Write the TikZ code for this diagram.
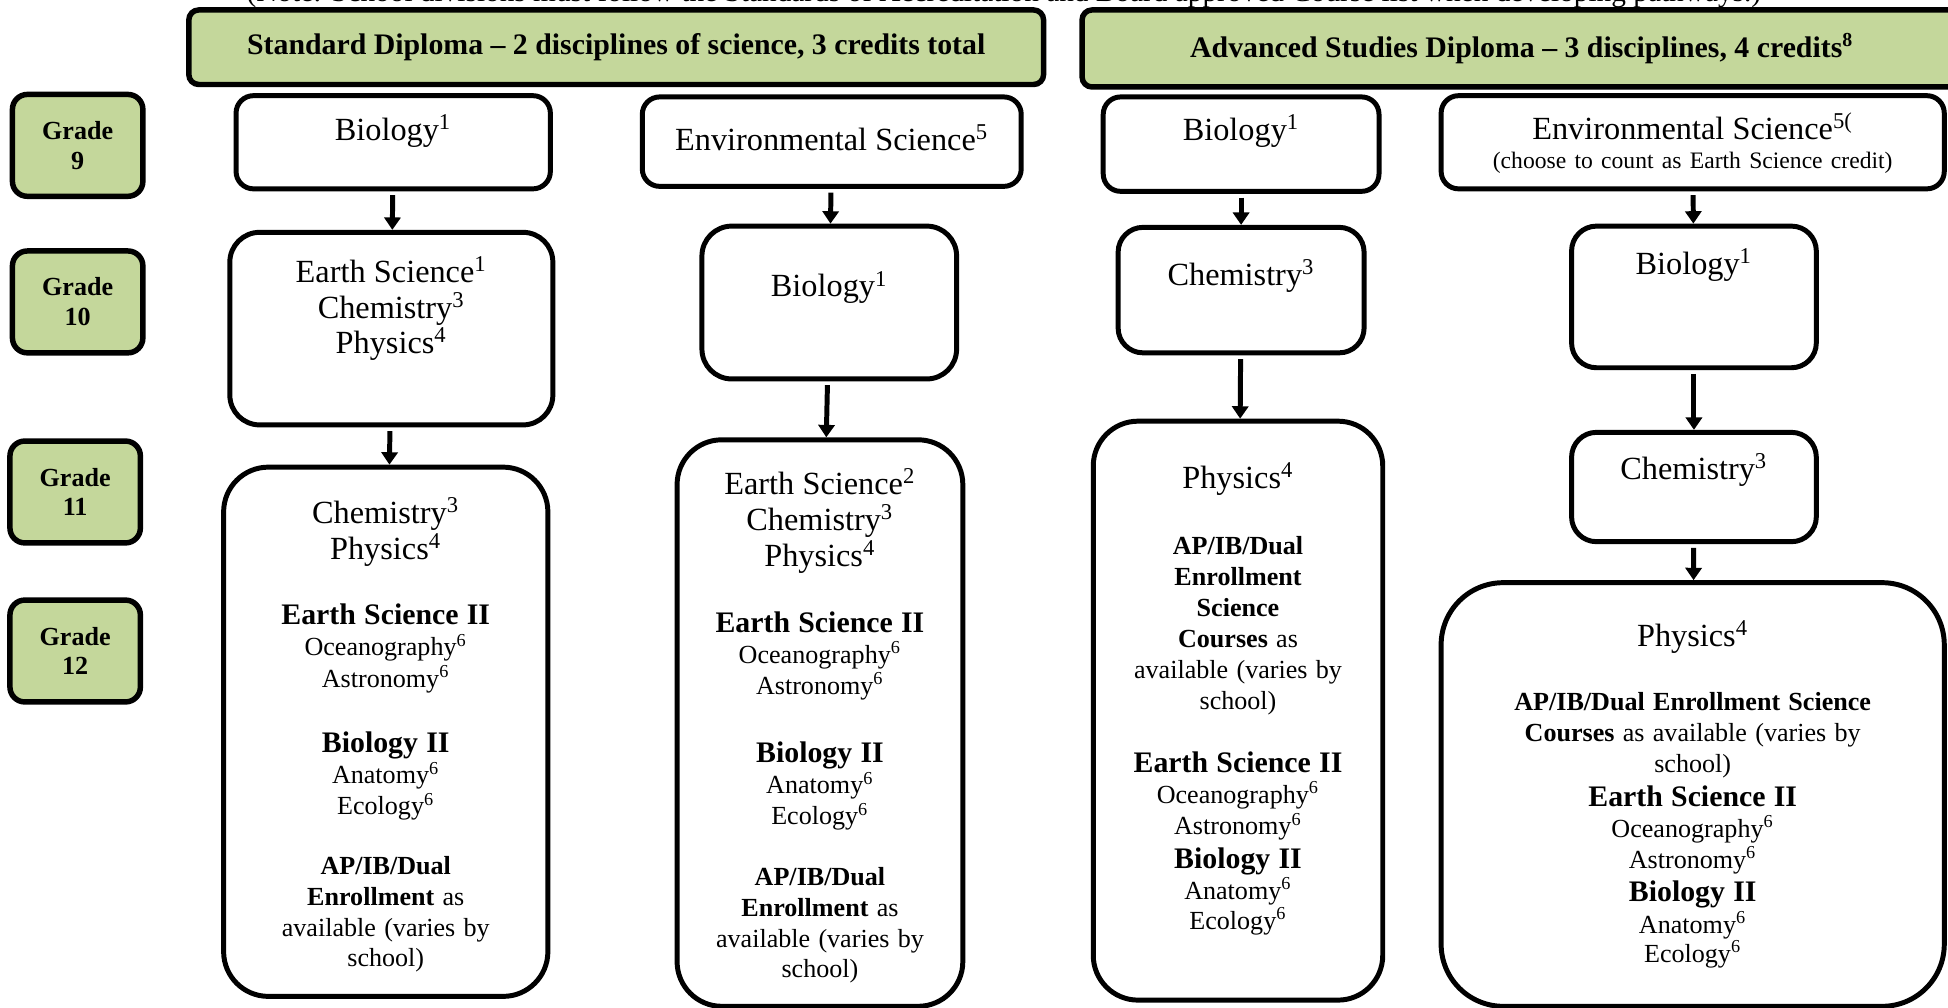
\documentclass[tikz,border=0pt]{standalone}
\usepackage{fontspec}
\setmainfont{Liberation Serif}
\usepackage{tikz}
\usetikzlibrary{shapes,arrows,arrows.meta}
\definecolor{gradegreen}{RGB}{196,215,155}
\newcommand{\crsfont}{\fontsize{13}{14.5}\selectfont\mdseries}
\newcommand{\subhfont}{\fontsize{12}{13.5}\selectfont\bfseries}
\newcommand{\topicfont}{\fontsize{10.5}{12.5}\selectfont\mdseries}
\tikzstyle{header} = [rectangle, draw, fill=gradegreen, line width=2.2pt,
rounded corners=4pt, inner sep=0pt, font=\fontsize{12}{14}\selectfont\bfseries]
\tikzstyle{grade} = [rectangle, draw, fill=gradegreen, line width=2.2pt, rounded corners=6pt,
minimum width=52.5pt, minimum height=41pt, inner sep=0pt, align=center,
font=\fontsize{10.5}{12}\selectfont\bfseries]
\tikzstyle{block} = [rectangle, draw, fill=white, line width=2pt, rounded corners=7pt,
anchor=north, inner sep=0pt, align=center]
\tikzstyle{bigblock} = [block, rounded corners=18pt]
\tikzstyle{line} = [draw, line width=2pt, -{Triangle[length=5pt,width=6.5pt]}, shorten <=1.5pt]

\begin{document}
\begin{tikzpicture}[x=0.5pt, y=-0.5pt]
\useasboundingbox (0,0) rectangle (1568,811);
\clip (0,0) rectangle (1568,811);
% Place nodes
\node [anchor=base, font=\fontsize{11.8}{14}\selectfont] (note) at (808,1.5) {(Note: School divisions must follow the Standards of Accreditation and Board approved Course list when developing pathways.)};
\node [header, minimum width=344pt, minimum height=30pt] (stdhead) at (496,38) {Standard Diploma – 2 disciplines of science, 3 credits total};
\node [header, minimum width=354pt, minimum height=31pt] (advhead) at (1225,39) {Advanced Studies Diploma – 3 disciplines, 4 credits\textsuperscript{8}};
\node [grade] (gnine) at (62.5,117) {Grade\\9};
\node [grade] (gten) at (62.5,243) {Grade\\10};
\node [grade] (geleven) at (60.5,396) {Grade\\11};
\node [grade] (gtwelve) at (60.5,524) {Grade\\12};
% Standard Diploma, first pathway
\node [block, text width=126.5pt, text height=18pt, text depth=19.5pt] (bioone) at (316.5,75) {\crsfont Biology\textsuperscript{1}};
\node [block, rounded corners=12pt, text width=130pt, text height=20pt, text depth=57.5pt] (esone) at (315,185) {\crsfont Earth Science\textsuperscript{1}\\ Chemistry\textsuperscript{3}\\ Physics\textsuperscript{4}};
\node [bigblock, text width=130.5pt, text height=22.5pt, text depth=190.5pt] (moreone) at (310.5,374) {\crsfont Chemistry\textsuperscript{3}\\ Physics\textsuperscript{4}\\[13pt]
\subhfont Earth Science II\\ \topicfont Oceanography\textsuperscript{6}\\ Astronomy\textsuperscript{6}\\[13pt]
\subhfont Biology II\\ \topicfont Anatomy\textsuperscript{6}\\ Ecology\textsuperscript{6}\\[11.5pt]
\textbf{AP/IB/Dual}\\ \textbf{Enrollment} as\\ available (varies by\\ school)};
% Standard Diploma, second pathway
\node [block, text width=152.5pt, text height=21.5pt, text depth=14.5pt] (envtwo) at (669.5,76) {\crsfont Environmental Science\textsuperscript{5}};
\node [block, rounded corners=12pt, text width=102.5pt, text height=28.5pt, text depth=33pt] (biotwo) at (667.5,180) {\crsfont Biology\textsuperscript{1}};
\node [bigblock, text width=115pt, text height=22pt, text depth=206pt] (moretwo) at (660,352) {\crsfont Earth Science\textsuperscript{2}\\ Chemistry\textsuperscript{3}\\ Physics\textsuperscript{4}\\[13pt]
\subhfont Earth Science II\\ \topicfont Oceanography\textsuperscript{6}\\ Astronomy\textsuperscript{6}\\[14pt]
\subhfont Biology II\\ \topicfont Anatomy\textsuperscript{6}\\ Ecology\textsuperscript{6}\\[12pt]
\textbf{AP/IB/Dual}\\ \textbf{Enrollment} as\\ available (varies by\\ school)};
% Advanced Studies Diploma, first pathway
\node [block, text width=111pt, text height=17.5pt, text depth=20.5pt] (biothree) at (999,76) {\crsfont Biology\textsuperscript{1}};
\node [block, rounded corners=10pt, text width=99pt, text height=23.5pt, text depth=27pt] (chemthree) at (999,181) {\crsfont Chemistry\textsuperscript{3}};
\node [bigblock, text width=116.5pt, text height=27pt, text depth=206pt] (morethree) at (996.5,337) {\crsfont Physics\textsuperscript{4}\\[14pt]
\topicfont\textbf{AP/IB/Dual}\\ \textbf{Enrollment}\\ \textbf{Science}\\ \textbf{Courses} as\\ available (varies by\\ school)\\[12pt]
\subhfont Earth Science II\\ \topicfont Oceanography\textsuperscript{6}\\ Astronomy\textsuperscript{6}\\
\subhfont Biology II\\ \topicfont Anatomy\textsuperscript{6}\\ Ecology\textsuperscript{6}};
% Advanced Studies Diploma, second pathway
\node [block, text width=202.5pt, text height=17.5pt, text depth=20pt] (envfour) at (1362.5,75) {\crsfont Environmental Science\textsuperscript{5(}\\
\fontsize{9.5}{12}\selectfont (choose to count as Earth Science credit)};
\node [block, rounded corners=10pt, text width=98.5pt, text height=19.5pt, text depth=37.5pt] (biofour) at (1363.5,180) {\crsfont Biology\textsuperscript{1}};
\node [block, rounded corners=10pt, text width=98.5pt, text height=19pt, text depth=25pt] (chemfour) at (1363.5,346) {\crsfont Chemistry\textsuperscript{3}};
\node [bigblock, rounded corners=25pt, text width=202.5pt, text height=25.5pt, text depth=145pt] (morefour) at (1362.5,467) {\crsfont Physics\textsuperscript{4}\\[13.5pt]
\topicfont\textbf{AP/IB/Dual Enrollment Science}\\ \textbf{Courses} as available (varies by\\ school)\\
\subhfont Earth Science II\\ \topicfont Oceanography\textsuperscript{6}\\ Astronomy\textsuperscript{6}\\
\subhfont Biology II\\ \topicfont Anatomy\textsuperscript{6}\\ Ecology\textsuperscript{6}};
% Draw edges
\path [line] (bioone) -- (esone);
\path [line] (esone) -- (moreone);
\path [line] (envtwo) -- (biotwo);
\path [line] (biotwo) -- (moretwo);
\path [line] (biothree) -- (chemthree);
\path [line] (chemthree) -- (morethree);
\path [line] (envfour) -- (biofour);
\path [line] (biofour) -- (chemfour);
\path [line] (chemfour) -- (morefour);
\end{tikzpicture}
\end{document}
